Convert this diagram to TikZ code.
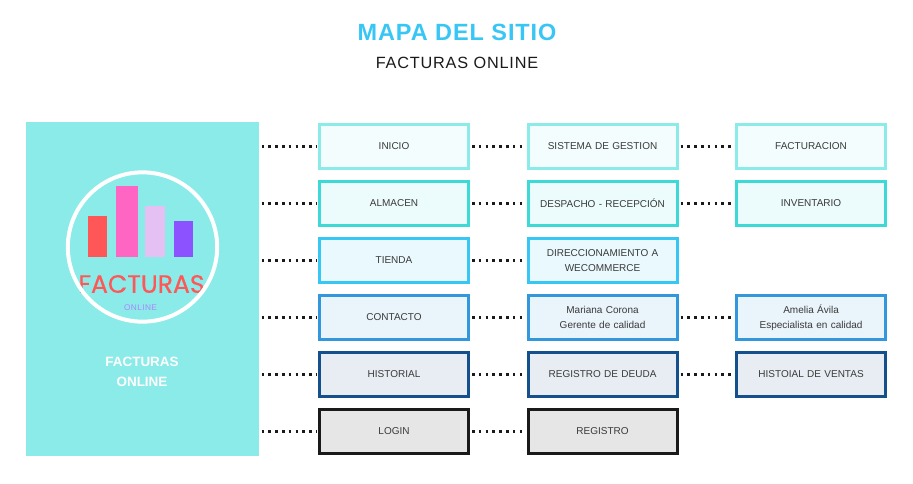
\documentclass[tikz,border=0pt]{standalone}
\usepackage{xcolor}
\usepackage{fontspec}
\setmainfont{Liberation Sans}
\newfontfamily\logofont[FakeBold=0.4]{Poppins}
\newfontfamily\spacedfont[LetterSpace=5]{Liberation Sans}
\newfontfamily\titlefont[LetterSpace=4]{Liberation Sans Bold}
\usetikzlibrary{positioning}
\definecolor{panel}{HTML}{8AEBE8}
\definecolor{sky}{HTML}{38C6F4}
\definecolor{teal}{HTML}{3DD9D6}
\definecolor{steel}{HTML}{3398DB}
\definecolor{navy}{HTML}{14508C}
\definecolor{ink}{HTML}{1A1A1A}
\definecolor{label}{HTML}{3A3A3A}
\definecolor{coral}{HTML}{FF5757}
\definecolor{hotpink}{HTML}{FF66C4}
\definecolor{lilac}{HTML}{E5C0F2}
\definecolor{violet}{HTML}{8C52FF}
\tikzstyle{block}  = [rectangle, line width=2.25pt, minimum width=111.75pt,
                      minimum height=33pt, text centered, text width=108pt,
                      inner sep=0pt, text=label, font=\fontsize{7.5}{11.4}\selectfont]
\tikzstyle{block1} = [block, draw=panel, fill=panel!10]
\tikzstyle{block2} = [block, draw=teal, fill=teal!10]
\tikzstyle{block3} = [block, draw=sky, fill=sky!11]
\tikzstyle{block4} = [block, draw=steel, fill=steel!11]
\tikzstyle{block5} = [block, draw=navy, fill=navy!10]
\tikzstyle{block6} = [block, draw=ink, fill=ink!11]
\tikzstyle{bar}    = [rectangle, inner sep=0pt, anchor=south west]
\tikzstyle{link}   = [line width=1.6pt, dash pattern=on 2pt off 3.1pt,
                      color=ink, shorten >=1.5pt, shorten <=1.5pt]

\begin{document}
\begin{tikzpicture}[x=0.75pt, y=-0.75pt, node distance=7.5pt and 42.4pt]

  \useasboundingbox (0,0) rectangle (913,483);

  %% ── Title ──
  \node[text=sky, font=\titlefont\fontsize{17.6}{20}\selectfont] (title) at (457,32) {MAPA DEL SITIO};
  \node[text=ink, font=\spacedfont\fontsize{12.2}{14}\selectfont] (subtitle) at (457,63) {FACTURAS ONLINE};

  %% ── Side panel ──
  \node[rectangle, fill=panel, inner sep=0pt, minimum width=174.75pt, minimum height=250.5pt,
        anchor=north west] (side) at (26,122) {};
  \node[text=white, font=\fontsize{10.1}{15}\selectfont\bfseries, align=center] (sidename) at (142,372)
        {FACTURAS\\ONLINE};

  %% ── Logo ──
  \node[bar, fill=coral, minimum width=14.25pt, minimum height=30.75pt] (bar1) at (88,257) {};
  \node[bar, fill=hotpink, minimum width=16pt, minimum height=53.25pt] (bar2) at (116,257) {};
  \node[bar, fill=lilac, minimum width=15pt, minimum height=38.25pt] (bar3) at (145,257) {};
  \node[bar, fill=violet, minimum width=14.25pt, minimum height=27pt] (bar4) at (174,257) {};
  \node[text=coral, font=\logofont\fontsize{18.8}{22}\selectfont] (logoname) at (141.5,284) {FACTURAS};
  \node[text=violet!70, font=\spacedfont\fontsize{6.2}{7}\selectfont] (logosub) at (140.5,308) {ONLINE};
  \node[circle, draw=white, line width=3pt, minimum size=112pt, inner sep=0pt] (logo) at (142.5,247) {};

  %% ── First column ──
  \node[block1, anchor=north west] (inicio) at (318,123) {INICIO};
  \node[block2, below=of inicio] (almacen) {ALMACEN};
  \node[block3, below=of almacen] (tienda) {TIENDA};
  \node[block4, below=of tienda] (contacto) {CONTACTO};
  \node[block5, below=of contacto] (historial) {HISTORIAL};
  \node[block6, below=of historial] (login) {LOGIN};

  %% ── Second column ──
  \node[block1, right=of inicio] (gestion) {SISTEMA DE GESTION};
  \node[block2, right=of almacen] (despacho) {DESPACHO - RECEPCIÓN};
  \node[block3, right=of tienda] (wecommerce) {DIRECCIONAMIENTO A\\WECOMMERCE};
  \node[block4, right=of contacto] (mariana) {Mariana Corona\\Gerente de calidad};
  \node[block5, right=of historial] (deuda) {REGISTRO DE DEUDA};
  \node[block6, right=of login] (registro) {REGISTRO};

  %% ── Third column ──
  \node[block1, right=of gestion] (facturacion) {FACTURACION};
  \node[block2, right=of despacho] (inventario) {INVENTARIO};
  \node[block4, right=of mariana] (amelia) {Amelia Ávila\\Especialista en calidad};
  \node[block5, right=of deuda] (ventas) {HISTOIAL DE VENTAS};

  %% ── Links ──
  \foreach \target in {inicio, almacen, tienda, contacto, historial, login}
    \draw[link] (side.east |- \target.west) -- (\target.west);
  \draw[link] (inicio) -- (gestion);
  \draw[link] (gestion) -- (facturacion);
  \draw[link] (almacen) -- (despacho);
  \draw[link] (despacho) -- (inventario);
  \draw[link] (tienda) -- (wecommerce);
  \draw[link] (contacto) -- (mariana);
  \draw[link] (mariana) -- (amelia);
  \draw[link] (historial) -- (deuda);
  \draw[link] (deuda) -- (ventas);
  \draw[link] (login) -- (registro);

\end{tikzpicture}
\end{document}
